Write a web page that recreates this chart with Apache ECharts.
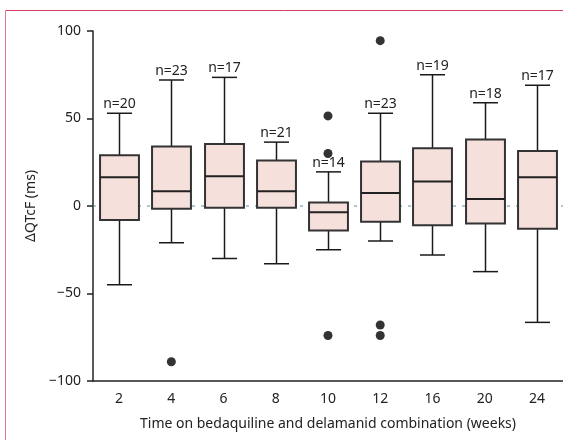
<!DOCTYPE html>
<html>
<head>
<meta charset="utf-8">
<script src="https://cdn.jsdelivr.net/npm/echarts@6/dist/echarts.min.js"></script>
<style>
html,body{margin:0;padding:0;background:#fff;}
#chart{width:563px;height:440px;}
</style>
</head>
<body>
<div id="chart"></div>
<script>
const categories = ['2', '4', '6', '8', '10', '12', '16', '20', '24'];
const lowerWhisker = [-45, -21, -30, -33, -25, -20, -28, -37.5, -66.5];
const q1 = [-8, -1.5, -1, -1, -14, -9, -11, -10, -13];
const median = [16.5, 8.5, 17, 8.5, -3.5, 7.5, 14, 4, 16.5];
const q3 = [29, 34, 35.5, 26, 2, 25.5, 33, 38, 31.5];
const upperWhisker = [53, 72, 73.5, 36.5, 19.5, 53, 75, 59, 69];
const nLabels = ['n=20', 'n=23', 'n=17', 'n=21', 'n=14', 'n=23', 'n=19', 'n=18', 'n=17'];
const outlierCategory = ['4', '10', '10', '10', '12', '12', '12'];
const outlierValue = [-89, 51.5, 30, -74, 94.5, -68, -74];
const yTicks = [-100, -50, 0, 50, 100];
const referenceValue = 0;

const FONT = '"Noto Sans", "Open Sans", sans-serif';
const TEXT = '#222';

const boxData = categories.map((c, i) => [i, lowerWhisker[i], q1[i], median[i], q3[i], upperWhisker[i]]);
const outlierData = outlierValue.map((v, k) => [categories.indexOf(outlierCategory[k]), v]);

function renderBox(params, api) {
  const i = api.value(0);
  const band = api.size([1, 0])[0];
  const boxW = band * 0.745;
  const capW = band * 0.48;
  const low = api.coord([i, api.value(1)]);
  const pq1 = api.coord([i, api.value(2)]);
  const pmed = api.coord([i, api.value(3)]);
  const pq3 = api.coord([i, api.value(4)]);
  const high = api.coord([i, api.value(5)]);
  const x = Math.round(low[0]) + 0.5;
  const wStyle = {stroke: '#1a1a1a', lineWidth: 1.5};
  return {
    type: 'group',
    children: [
      {type: 'line', shape: {x1: x, y1: high[1], x2: x, y2: pq3[1]}, style: wStyle},
      {type: 'line', shape: {x1: x, y1: pq1[1], x2: x, y2: low[1]}, style: wStyle},
      {type: 'line', shape: {x1: x - capW / 2, y1: high[1], x2: x + capW / 2, y2: high[1]}, style: wStyle},
      {type: 'line', shape: {x1: x - capW / 2, y1: low[1], x2: x + capW / 2, y2: low[1]}, style: wStyle},
      {type: 'rect', shape: {x: x - boxW / 2, y: pq3[1], width: boxW, height: pq1[1] - pq3[1]},
        style: {fill: '#f5e0dc', stroke: '#333', lineWidth: 2}},
      {type: 'line', shape: {x1: x - boxW / 2, y1: pmed[1], x2: x + boxW / 2, y2: pmed[1]},
        style: {stroke: '#222', lineWidth: 2}},
      {type: 'text', style: {text: nLabels[i], x: x, y: high[1] - 2, fill: TEXT, fontSize: 14,
        fontFamily: FONT, align: 'center', verticalAlign: 'bottom'}}
    ]
  };
}

const chart = echarts.init(document.getElementById('chart'), null, {renderer: 'canvas'});
chart.setOption({
  animation: false,
  backgroundColor: '#fff',
  textStyle: {fontFamily: FONT},
  grid: {left: 93, right: 0, top: 31, bottom: 59},
  graphic: [
    {type: 'line', z: 100, shape: {x1: 5.5, y1: 10.5, x2: 563, y2: 10.5}, style: {stroke: '#d23c60', lineWidth: 1}},
    {type: 'line', z: 100, shape: {x1: 5.5, y1: 10.5, x2: 5.5, y2: 440}, style: {stroke: '#e07a95', lineWidth: 1}}
  ],
  xAxis: [{
    type: 'category',
    data: categories,
    boundaryGap: true,
    name: 'Time on bedaquiline and delamanid combination (weeks)',
    nameLocation: 'middle',
    nameGap: 36,
    nameTextStyle: {fontSize: 14, color: TEXT, fontFamily: FONT},
    axisLine: {onZero: false, lineStyle: {color: '#222', width: 1.5}},
    axisTick: {alignWithLabel: true, length: 6, lineStyle: {color: '#222', width: 1.5}},
    axisLabel: {fontSize: 14, color: TEXT, margin: 11, fontFamily: FONT},
    splitLine: {show: false}
  }, {
    type: 'value', min: 0, max: 1, show: false,
    axisLine: {show: false, onZero: false}, splitLine: {show: false}
  }],
  yAxis: {
    type: 'value',
    min: yTicks[0],
    max: yTicks[yTicks.length - 1],
    interval: 50,
    name: 'ΔQTcF (ms)',
    nameLocation: 'middle',
    nameGap: 54,
    nameRotate: 90,
    nameTextStyle: {fontSize: 14, color: TEXT, fontFamily: FONT},
    axisLine: {show: true, onZero: false, lineStyle: {color: '#222', width: 1.5}},
    axisTick: {show: true, length: 6, lineStyle: {color: '#222', width: 1.5}},
    axisLabel: {fontSize: 14, color: TEXT, margin: 12, fontFamily: FONT,
      formatter: v => (v < 0 ? '\u2212' + Math.abs(v) : String(v))},
    splitLine: {show: false}
  },
  series: [
    {
      type: 'line', xAxisIndex: 1, z: 1, silent: true, symbol: 'none',
      lineStyle: {type: [3, 6], color: '#5f8aa0', width: 1},
      data: [[0, referenceValue], [1, referenceValue]]
    },
    {
      type: 'custom', z: 10,
      renderItem: renderBox,
      encode: {x: 0, y: [1, 2, 3, 4, 5]},
      data: boxData
    },
    {
      type: 'scatter', z: 11,
      symbol: 'circle', symbolSize: 9,
      itemStyle: {color: '#000'},
      data: outlierData
    }
  ]
});
</script>
</body>
</html>
